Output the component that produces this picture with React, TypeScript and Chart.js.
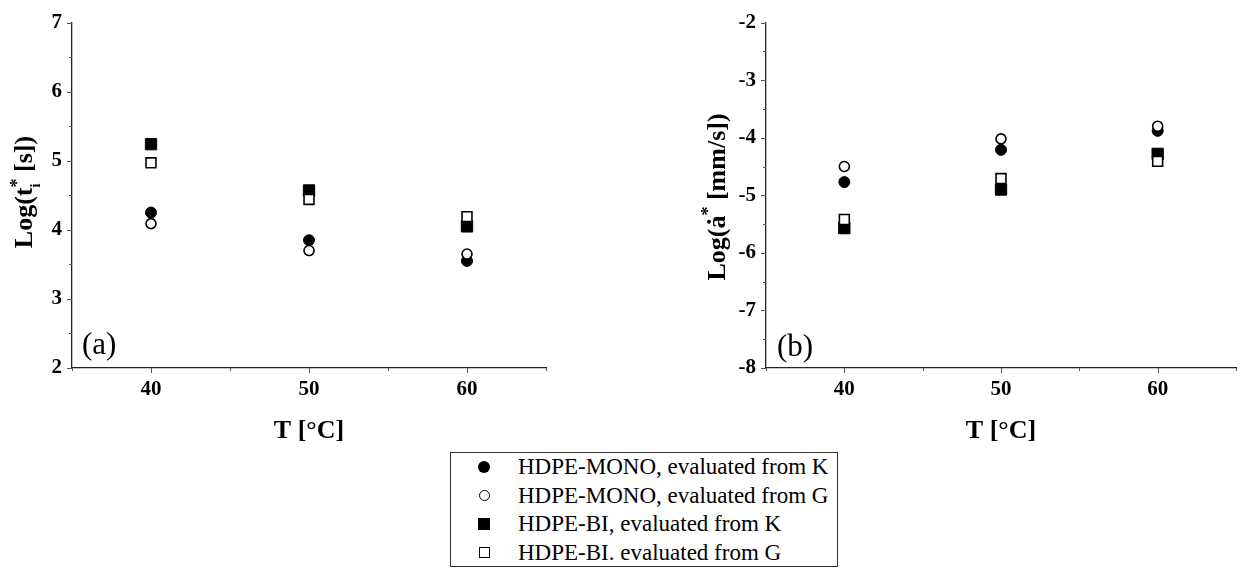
import React, { useEffect, useRef } from "react";
import { Chart, registerables } from "chart.js";

Chart.register(...registerables);

// ---------- data ----------
const temperatures = [40, 50, 60];
const labelledXTicks = [40, 50, 60];
const seriesNames = [
  "HDPE-MONO, evaluated from K",
  "HDPE-MONO, evaluated from G",
  "HDPE-BI, evaluated from K",
  "HDPE-BI. evaluated from G",
];
// panel (a): Log(t_i*) [s]
const logTMonoK = [4.25, 3.85, 3.55];
const logTMonoG = [4.09, 3.7, 3.65];
const logTBiK = [5.24, 4.57, 4.05];
const logTBiG = [4.97, 4.44, 4.19];
// panel (b): Log(a*) [mm/s]
const logAMonoK = [-4.77, -4.21, -3.88];
const logAMonoG = [-4.5, -4.02, -3.8];
const logABiK = [-5.57, -4.9, -4.28];
const logABiG = [-5.42, -4.71, -4.41];

const SERIF = '"Liberation Serif", "Times New Roman", "DejaVu Serif", serif';
Chart.defaults.font.family = SERIF;

type Seg = { text: string; size: number; rise: number; stack?: boolean };

function drawRotatedRich(ctx: CanvasRenderingContext2D, segs: Seg[], baselineX: number, centerY: number) {
  ctx.save();
  const widths: number[] = segs.map((s) => {
    ctx.font = `bold ${s.size}px ${SERIF}`;
    return ctx.measureText(s.text).width;
  });
  const xs: number[] = [];
  let x = 0;
  let pending = 0;
  segs.forEach((s, i) => {
    xs.push(x);
    if (s.stack) {
      pending = Math.max(pending, widths[i]);
    } else {
      x += Math.max(widths[i], pending);
      pending = 0;
    }
  });
  const total = x;
  ctx.translate(baselineX, centerY);
  ctx.rotate(-Math.PI / 2);
  ctx.textBaseline = "alphabetic";
  ctx.textAlign = "left";
  ctx.fillStyle = "#000";
  segs.forEach((s, i) => {
    ctx.font = `bold ${s.size}px ${SERIF}`;
    ctx.fillText(s.text, xs[i] - total / 2, -s.rise);
  });
  ctx.restore();
}

type PanelProps = {
  left: number;
  width: number;
  axisWidth: number;
  rightPad: number;
  yMin: number;
  yMax: number;
  values: number[][];
  yTitle: Seg[];
  yTitleX: number;
  yTitleY: number;
  panelLabel: string;
  panelX: number;
  panelY: number;
};

const CANVAS_H = 450;
const AREA_TOP = 16;
const AREA_BOTTOM = 368;

function Panel(p: PanelProps) {
  const ref = useRef<HTMLCanvasElement | null>(null);
  useEffect(() => {
    if (!ref.current) return;
    const styles = [
      { style: "circle", radius: 5.5, bg: "#000", bw: 1 },
      { style: "circle", radius: 5, bg: "#fff", bw: 1.6 },
      { style: "rect", radius: 8, bg: "#000", bw: 1 },
      { style: "rect", radius: 7, bg: "#fff", bw: 1.6 },
    ];
    const datasets = p.values.map((vals, i) => ({
      label: seriesNames[i],
      data: temperatures.map((t, j) => ({ x: t, y: vals[j] })),
      pointStyle: styles[i].style,
      pointRadius: styles[i].radius,
      pointBackgroundColor: styles[i].bg,
      pointBorderColor: "#000",
      pointBorderWidth: styles[i].bw,
      showLine: false,
      order: i % 2 === 0 ? 1 : 0,
    }));

    const decor = {
      id: "decor",
      afterDraw(chart: any) {
        const ctx: CanvasRenderingContext2D = chart.ctx;
        const xs = chart.scales.x;
        const ys = chart.scales.y;
        const area = chart.chartArea;
        ctx.save();
        ctx.strokeStyle = "#555";
        ctx.lineWidth = 1;
        ctx.beginPath();
        xs.ticks.forEach((t: any) => {
          const px = Math.round(xs.getPixelForValue(t.value)) + 0.5;
          const len = t.value % 10 === 0 ? 5 : 3;
          ctx.moveTo(px, area.bottom);
          ctx.lineTo(px, area.bottom + len);
        });
        ys.ticks.forEach((t: any) => {
          const py = Math.round(ys.getPixelForValue(t.value)) + 0.5;
          const len = Number.isInteger(t.value) ? 5 : 3;
          ctx.moveTo(area.left, py);
          ctx.lineTo(area.left - len, py);
        });
        ctx.stroke();

        // x title
        ctx.fillStyle = "#000";
        ctx.font = `bold 26px ${SERIF}`;
        ctx.textAlign = "center";
        ctx.textBaseline = "alphabetic";
        ctx.fillText("T [°C]", (area.left + area.right) / 2, 438);

        // panel label
        ctx.font = `31px ${SERIF}`;
        ctx.textAlign = "left";
        ctx.fillText(p.panelLabel, p.panelX, p.panelY);
        ctx.restore();

        drawRotatedRich(ctx, p.yTitle, p.yTitleX, p.yTitleY);
      },
    };

    const tickFont = { family: SERIF, size: 21, weight: "bold" as const };
    const chart = new Chart(ref.current, {
      type: "scatter",
      data: { datasets: datasets as any },
      options: {
        responsive: false,
        animation: false,
        events: [],
        font: { family: SERIF },
        layout: { padding: { left: 0, right: p.rightPad, top: AREA_TOP, bottom: 0 } },
        plugins: { legend: { display: false }, tooltip: { enabled: false } },
        scales: {
          x: {
            type: "linear",
            min: 35,
            max: 65,
            grid: { display: false, drawTicks: false },
            border: { display: true, color: "#222", width: 1.3 },
            ticks: {
              stepSize: 5,
              autoSkip: false,
              maxRotation: 0,
              padding: 9,
              color: "#000",
              font: tickFont,
              callback: (v: any) => (labelledXTicks.includes(Number(v)) ? String(v) : ""),
            },
            afterFit: (s: any) => {
              s.height = CANVAS_H - AREA_BOTTOM;
            },
          },
          y: {
            type: "linear",
            min: p.yMin,
            max: p.yMax,
            grid: { display: false, drawTicks: false },
            border: { display: true, color: "#222", width: 1.3 },
            ticks: {
              stepSize: 0.5,
              autoSkip: false,
              padding: 10,
              color: "#000",
              font: tickFont,
              callback: (v: any) => (Number.isInteger(Number(v)) ? String(v) : ""),
            },
            afterFit: (s: any) => {
              s.width = p.axisWidth;
            },
          },
        },
      } as any,
      plugins: [decor],
    });
    return () => chart.destroy();
  }, []);
  return (
    <canvas
      ref={ref}
      width={p.width}
      height={CANVAS_H}
      style={{ position: "absolute", left: p.left, top: 0, width: p.width, height: CANVAS_H }}
    />
  );
}

function LegendMarker({ kind }: { kind: number }) {
  const base: React.CSSProperties = { position: "absolute", boxSizing: "border-box" };
  const L = 22;
  if (kind === 0)
    return <div style={{ ...base, left: L, width: 12, height: 12, top: 8, borderRadius: "50%", background: "#000" }} />;
  if (kind === 1)
    return (
      <div
        style={{ ...base, left: L + 0.5, width: 11, height: 11, top: 8.5, borderRadius: "50%", background: "#fff", border: "1.8px solid #000" }}
      />
    );
  if (kind === 2) return <div style={{ ...base, left: L, width: 12, height: 12, top: 8, background: "#000" }} />;
  return <div style={{ ...base, left: L + 0.5, width: 11, height: 11, top: 8.5, background: "#fff", border: "1.8px solid #000" }} />;
}

export default function App() {
  const rowCenters = [467, 495.5, 524, 552.5];
  return (
    <div style={{ position: "absolute", left: 0, top: 0, width: 1245, height: 570, background: "#fff", overflow: "hidden" }}>
      <Panel
        left={0}
        width={620}
        axisWidth={72}
        rightPad={74}
        yMin={2}
        yMax={7}
        values={[logTMonoK, logTMonoG, logTBiK, logTBiG]}
        yTitle={[
          { text: "Log(t", size: 26, rise: 0 },
          { text: "i", size: 14, rise: -8, stack: true },
          { text: "*", size: 18, rise: 9 },
          { text: " [s])", size: 26, rise: 0 },
        ]}
        yTitleX={32}
        yTitleY={192}
        panelLabel="(a)"
        panelX={82}
        panelY={354}
      />
      <Panel
        left={690}
        width={555}
        axisWidth={76}
        rightPad={5}
        yMin={-8}
        yMax={-2}
        values={[logAMonoK, logAMonoG, logABiK, logABiG]}
        yTitle={[
          { text: "Log(ȧ", size: 26, rise: 0 },
          { text: "*", size: 18, rise: 11 },
          { text: " [mm/s])", size: 26, rise: 0 },
        ]}
        yTitleX={35}
        yTitleY={197}
        panelLabel="(b)"
        panelX={87}
        panelY={356}
      />
      <div
        style={{
          position: "absolute",
          left: 450,
          top: 452,
          width: 388,
          height: 115,
          boxSizing: "border-box",
          border: "1px solid #333",
        }}
      />
      {seriesNames.map((name, i) => (
        <div
          key={name}
          style={{
            position: "absolute",
            left: 456,
            top: rowCenters[i] - 14,
            height: 28,
            width: 380,
          }}
        >
          <LegendMarker kind={i} />
          <div
            style={{
              position: "absolute",
              left: 62,
              top: 0,
              height: 28,
              lineHeight: "28px",
              fontFamily: SERIF,
              fontSize: 23,
              color: "#000",
              whiteSpace: "nowrap",
            }}
          >
            {name}
          </div>
        </div>
      ))}
    </div>
  );
}
